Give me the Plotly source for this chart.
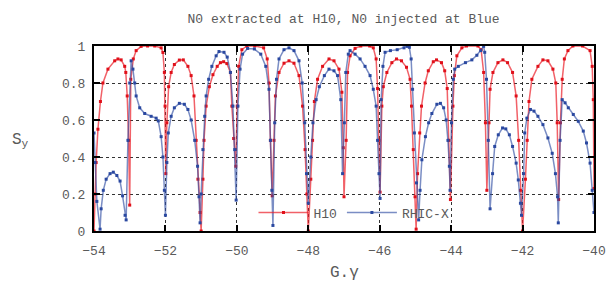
import plotly.graph_objects as go

# H10 series
h10_g = [-54.00, -53.97, -53.94, -53.89, -53.82, -53.75, -53.61, -53.42, -53.33, -53.24,
         -53.14, -53.11, -53.07, -53.03, -53.00, -52.97, -52.90, -52.82, -52.68, -52.50,
         -52.30, -52.12, -52.07, -52.03, -52.01, -51.99, -51.96, -51.91, -51.84, -51.75,
         -51.61, -51.50, -51.37, -51.28, -51.20, -51.14, -51.09, -51.03, -51.00, -50.95,
         -50.92, -50.86, -50.77, -50.67, -50.55, -50.46, -50.37, -50.28, -50.18, -50.14,
         -50.09, -50.03, -49.99, -49.95, -49.86, -49.72, -49.50, -49.25, -49.15, -49.10,
         -49.06, -49.01, -48.96, -48.92, -48.82, -48.68, -48.54, -48.40, -48.26, -48.16,
         -48.09, -48.04, -48.00, -47.93, -47.88, -47.83, -47.74, -47.60, -47.42, -47.28,
         -47.14, -47.06, -47.02, -47.00, -46.94, -46.90, -46.83, -46.69, -46.53, -46.28,
         -46.18, -46.10, -46.06, -46.02, -45.99, -45.94, -45.90, -45.80, -45.66, -45.53,
         -45.39, -45.25, -45.15, -45.11, -45.06, -45.01, -44.98, -44.94, -44.88, -44.83,
         -44.73, -44.64, -44.50, -44.41, -44.27, -44.18, -44.11, -44.06, -44.02, -43.95,
         -43.91, -43.84, -43.70, -43.57, -43.25, -43.16, -43.09, -43.04, -43.00, -42.94,
         -42.91, -42.83, -42.69, -42.55, -42.42, -42.28, -42.18, -42.11, -42.06, -42.00,
         -41.92, -41.87, -41.82, -41.74, -41.57, -41.43, -41.29, -41.15, -41.07, -41.03,
         -40.99, -40.94, -40.89, -40.83, -40.73, -40.59, -40.32, -40.11, -40.05, -40.02,
         -40.00]
h10_sy = [0.00, 0.20, 0.37, 0.55, 0.70, 0.80, 0.875, 0.92, 0.93, 0.925,
          0.89, 0.857, 0.73, 0.49, 0.14, 0.82, 0.93, 0.975, 0.998, 1.0,
          1.0, 0.99, 0.965, 0.857, 0.675, 0.31, 0.585, 0.78, 0.857, 0.90,
          0.924, 0.925, 0.89, 0.84, 0.73, 0.49, 0.28, 0.10, 0.0, 0.28,
          0.49, 0.675, 0.78, 0.845, 0.89, 0.91, 0.915, 0.905, 0.857, 0.675,
          0.50, 0.35, 0.675, 0.89, 0.98, 1.0, 1.0, 0.99, 0.93, 0.80,
          0.49, 0.19, 0.49, 0.73, 0.857, 0.907, 0.92, 0.907, 0.84, 0.675,
          0.44, 0.20, 0.0, 0.28, 0.49, 0.70, 0.82, 0.89, 0.93, 0.92,
          0.875, 0.75, 0.45, 0.185, 0.49, 0.857, 0.947, 0.987, 1.0, 1.0,
          0.99, 0.93, 0.77, 0.49, 0.21, 0.675, 0.78, 0.857, 0.91, 0.93,
          0.92, 0.885, 0.82, 0.675, 0.44, 0.185, 0.01, 0.31, 0.53, 0.675,
          0.80, 0.866, 0.915, 0.925, 0.91, 0.866, 0.77, 0.49, 0.17, 0.675,
          0.84, 0.947, 0.99, 1.0, 1.0, 0.98, 0.857, 0.585, 0.22, 0.585,
          0.766, 0.857, 0.91, 0.925, 0.91, 0.857, 0.73, 0.49, 0.22, 0.0,
          0.28, 0.49, 0.70, 0.82, 0.89, 0.925, 0.92, 0.875, 0.80, 0.585,
          0.17, 0.585, 0.82, 0.93, 0.975, 1.0, 1.0, 0.975, 0.89, 0.71,
          0.23]

# RHIC-X series
rhic_g = [-54.00, -53.97, -53.92, -53.83, -53.80, -53.74, -53.66, -53.55, -53.46, -53.36,
          -53.27, -53.20, -53.13, -53.10, -53.05, -53.00, -52.96, -52.91, -52.86, -52.82,
          -52.72, -52.58, -52.40, -52.26, -52.20, -52.12, -52.07, -52.03, -52.00, -51.96,
          -51.92, -51.84, -51.75, -51.61, -51.47, -51.37, -51.28, -51.18, -51.10, -51.06,
          -51.03, -51.00, -50.95, -50.90, -50.86, -50.79, -50.70, -50.58, -50.50, -50.36,
          -50.27, -50.18, -50.11, -50.06, -50.02, -49.97, -49.91, -49.84, -49.70, -49.51,
          -49.33, -49.19, -49.10, -49.06, -49.02, -48.99, -48.94, -48.89, -48.82, -48.68,
          -48.54, -48.40, -48.26, -48.17, -48.10, -48.05, -48.00, -47.93, -47.87, -47.78,
          -47.69, -47.55, -47.42, -47.28, -47.18, -47.09, -47.04, -46.99, -46.95, -46.88,
          -46.83, -46.69, -46.55, -46.41, -46.27, -46.18, -46.10, -46.06, -46.02, -45.99,
          -45.96, -45.91, -45.85, -45.70, -45.51, -45.32, -45.23, -45.17, -45.12, -45.08,
          -45.03, -44.97, -44.91, -44.87, -44.82, -44.72, -44.63, -44.54, -44.40, -44.30,
          -44.21, -44.14, -44.09, -44.05, -44.03, -43.99, -43.94, -43.90, -43.80, -43.60,
          -43.42, -43.28, -43.17, -43.09, -43.06, -43.01, -42.96, -42.91, -42.84, -42.78,
          -42.68, -42.56, -42.47, -42.37, -42.28, -42.18, -42.12, -42.06, -42.03, -41.97,
          -41.94, -41.88, -41.78, -41.68, -41.57, -41.43, -41.29, -41.17, -41.08, -41.02,
          -41.00, -40.95, -40.89, -40.81, -40.72, -40.58, -40.44, -40.30, -40.21, -40.11,
          -40.05, -40.00]
rhic_sy = [0.53, 0.37, 0.16, 0.01, 0.12, 0.22, 0.28, 0.31, 0.318, 0.30,
           0.27, 0.19, 0.085, 0.06, 0.49, 0.80, 0.92, 0.875, 0.80, 0.73,
           0.666, 0.635, 0.62, 0.61, 0.595, 0.51, 0.40, 0.22, 0.085, 0.37,
           0.53, 0.62, 0.666, 0.69, 0.685, 0.657, 0.60, 0.49, 0.35, 0.185,
           0.044, 0.20, 0.44, 0.62, 0.73, 0.82, 0.89, 0.947, 0.97, 0.966,
           0.94, 0.857, 0.675, 0.44, 0.167, 0.675, 0.875, 0.956, 0.987, 0.984,
           0.956, 0.89, 0.766, 0.49, 0.22, 0.03, 0.585, 0.82, 0.93, 0.98,
           0.99, 0.975, 0.92, 0.80, 0.585, 0.31, 0.15, 0.40, 0.585, 0.71,
           0.78, 0.84, 0.875, 0.866, 0.84, 0.71, 0.31, 0.585, 0.857, 0.956,
           0.975, 0.956, 0.93, 0.89, 0.84, 0.766, 0.675, 0.49, 0.31, 0.176,
           0.71, 0.89, 0.966, 0.975, 0.98, 0.99, 0.998, 0.993, 0.93, 0.766,
           0.53, 0.26, 0.06, 0.22, 0.385, 0.51, 0.585, 0.635, 0.685, 0.69,
           0.666, 0.60, 0.49, 0.35, 0.22, 0.585, 0.82, 0.875, 0.89, 0.91,
           0.925, 0.95, 0.975, 0.998, 0.966, 0.82, 0.49, 0.12, 0.31, 0.457,
           0.52, 0.557, 0.552, 0.52, 0.457, 0.367, 0.276, 0.15, 0.085, 0.31,
           0.53, 0.61, 0.657, 0.648, 0.62, 0.575, 0.503, 0.42, 0.31, 0.185,
           0.044, 0.49, 0.71, 0.693, 0.666, 0.63, 0.593, 0.54, 0.476, 0.367,
           0.22, 0.10]

x_ticks = [-54, -52, -50, -48, -46, -44, -42, -40]
y_ticks = [0, 0.2, 0.4, 0.6, 0.8, 1]
y_tick_text = ["0", "0.2", "0.4", "0.6", "0.8", "1"]

FONT = "Liberation Mono, DejaVu Sans Mono, monospace"
GRAY = "#5a5a5a"

fig = go.Figure()
fig.add_trace(go.Scatter(
    x=h10_g, y=h10_sy, name="H10", mode="lines+markers",
    line=dict(color="rgba(235,30,40,0.7)", width=1.5),
    marker=dict(symbol="square", size=3, color="#e0101a"),
))
fig.add_trace(go.Scatter(
    x=rhic_g, y=rhic_sy, name="RHIC-X", mode="lines+markers",
    line=dict(color="rgba(50,80,165,0.65)", width=1.5),
    marker=dict(symbol="square", size=3, color="#2a48a0"),
))

axis_common = dict(
    showline=True, linecolor="black", linewidth=2, mirror="allticks",
    ticks="inside", ticklen=6, tickwidth=2, tickcolor="black",
    showgrid=True, gridcolor="#333333", griddash="dot", gridwidth=1,
    zeroline=False,
    tickfont=dict(family=FONT, size=13, color=GRAY),
)

fig.update_layout(
    width=606, height=286,
    margin=dict(l=94, r=12, t=46, b=55, autoexpand=False),
    paper_bgcolor="white", plot_bgcolor="white",
    title=dict(text="N0 extracted at H10, N0 injected at Blue",
               x=0.567, xanchor="center", y=1 - 18 / 286, yanchor="middle",
               font=dict(family=FONT, size=13, color=GRAY)),
    xaxis=dict(range=[-54, -40], tickvals=x_ticks, ticklabelstandoff=6, **axis_common),
    yaxis=dict(range=[0, 1], tickvals=y_ticks, ticktext=y_tick_text, ticklabelstandoff=4,
               **axis_common),
    showlegend=True,
    legend=dict(orientation="h", x=0.52, xanchor="center", y=0.1, yanchor="middle",
                bgcolor="rgba(0,0,0,0)", itemwidth=50,
                font=dict(family=FONT, size=13, color=GRAY)),
    annotations=[
        dict(text="G.γ", xref="paper", yref="paper", x=0.5, y=-0.227,
             showarrow=False, xanchor="center", yanchor="middle",
             font=dict(family=FONT, size=16, color=GRAY)),
        dict(text="S<sub>y</sub>", xref="paper", yref="paper", x=-0.148, y=0.49,
             showarrow=False, xanchor="center", yanchor="middle",
             font=dict(family=FONT, size=16, color=GRAY)),
    ],
)

fig.write_html("out.html", config={"displayModeBar": False},
               post_script="document.body.style.margin='0';document.body.style.overflow='hidden';")
